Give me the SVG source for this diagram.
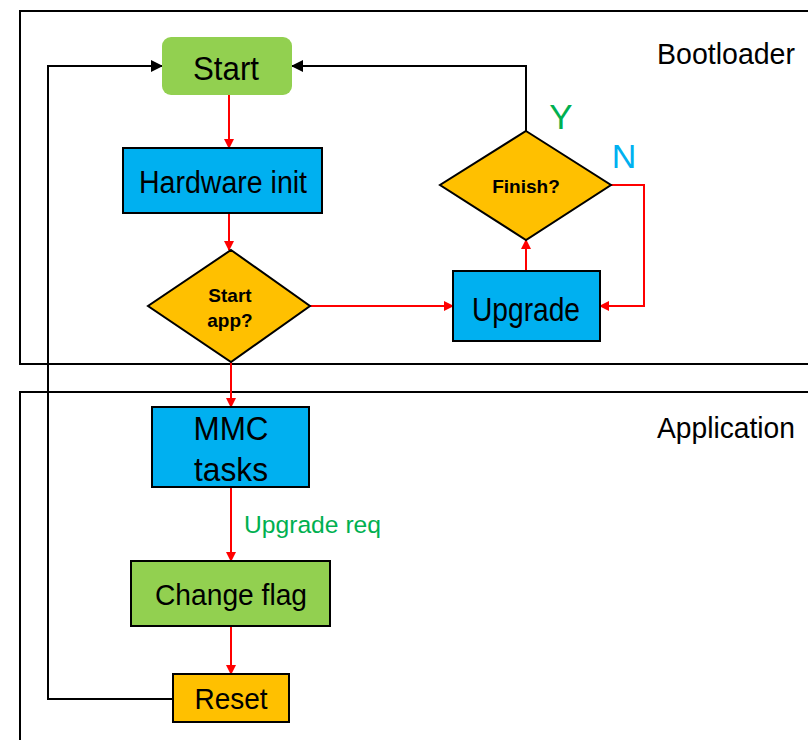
<svg xmlns="http://www.w3.org/2000/svg" width="808" height="740" viewBox="0 0 808 740">
<defs>
<marker id="ar" markerWidth="10" markerHeight="10" refX="9" refY="5" orient="auto" markerUnits="userSpaceOnUse"><path d="M0,0 L10,5 L0,10 Z" fill="#ff0000"/></marker>
<marker id="ab" markerWidth="12" markerHeight="12" refX="11" refY="6" orient="auto" markerUnits="userSpaceOnUse"><path d="M0,0 L12,6 L0,12 Z" fill="#000"/></marker>
</defs>
<style>
text{font-family:"Liberation Sans",Arial,sans-serif;}
.box{stroke:#000;stroke-width:2;}
.red{fill:none;stroke:#ff0000;stroke-width:2;marker-end:url(#ar);}
.blk{fill:none;stroke:#000;stroke-width:2;marker-end:url(#ab);}
.lbl{text-anchor:middle;fill:#000;}
.dl{font-size:19px;font-weight:bold;text-anchor:middle;fill:#000;}
</style>
<rect x="0" y="0" width="808" height="740" fill="#fff"/>
<g id="bootloader">
<rect x="20" y="11" width="800" height="353" fill="none" stroke="#000" stroke-width="2"/>
<text x="657" y="64" font-size="29" textLength="138" lengthAdjust="spacingAndGlyphs">Bootloader</text>
</g>
<g id="application">
<rect x="20" y="392" width="800" height="360" fill="none" stroke="#000" stroke-width="2"/>
<text x="657" y="438" font-size="29" textLength="138" lengthAdjust="spacingAndGlyphs">Application</text>
</g>
<g id="connectors">
<path class="red" d="M229,95 L229,148"/>
<path class="red" d="M229,213 L229,250"/>
<path class="red" d="M310,306 L453,306"/>
<path class="red" d="M526,271 L526,240"/>
<path class="red" d="M611,185 L644,185 L644,306 L600,306"/>
<path class="blk" d="M526,131 L526,66 L292,66"/>
<path class="red" d="M231,362 L231,407"/>
<path class="red" d="M231,487 L231,561"/>
<path class="red" d="M231,626 L231,674"/>
<path class="blk" d="M173,699 L48,699 L48,66 L162,66"/>
<text x="244" y="533" font-size="24.5" fill="#00b050" textLength="137" lengthAdjust="spacingAndGlyphs">Upgrade req</text>
<text x="561" y="129" font-size="35" fill="#00b050" text-anchor="middle">Y</text>
<text x="624" y="168" font-size="34" fill="#00b0f0" text-anchor="middle">N</text>
</g>
<g id="start">
<rect x="162" y="37" width="130" height="58" rx="9" fill="#92d050"/>
<text class="lbl" x="226" y="80" font-size="34" textLength="66" lengthAdjust="spacingAndGlyphs">Start</text>
</g>
<g id="hwinit">
<rect class="box" x="123" y="148" width="199" height="65" fill="#00b0f0"/>
<text class="lbl" x="223" y="193" font-size="31" textLength="168" lengthAdjust="spacingAndGlyphs">Hardware init</text>
</g>
<g id="startapp">
<polygon class="box" points="231,250 310,306 231,362 148,306" fill="#ffc000"/>
<text class="dl" x="230" y="302">Start</text>
<text class="dl" x="230" y="327">app?</text>
</g>
<g id="upgrade">
<rect class="box" x="453" y="271" width="147" height="70" fill="#00b0f0"/>
<text class="lbl" x="526" y="321" font-size="34" textLength="108" lengthAdjust="spacingAndGlyphs">Upgrade</text>
</g>
<g id="finish">
<polygon class="box" points="526,131 611,185 526,240 440,185" fill="#ffc000"/>
<text class="dl" x="526" y="193">Finish?</text>
</g>
<g id="mmc">
<rect class="box" x="152" y="407" width="157" height="80" fill="#00b0f0"/>
<text class="lbl" x="231" y="440" font-size="34" textLength="75" lengthAdjust="spacingAndGlyphs">MMC</text>
<text class="lbl" x="231" y="481" font-size="34" textLength="74" lengthAdjust="spacingAndGlyphs">tasks</text>
</g>
<g id="changeflag">
<rect class="box" x="131" y="561" width="199" height="65" fill="#92d050"/>
<text class="lbl" x="231" y="605" font-size="30" textLength="152" lengthAdjust="spacingAndGlyphs">Change flag</text>
</g>
<g id="reset">
<rect class="box" x="173" y="674" width="116" height="48" fill="#ffc000"/>
<text class="lbl" x="231" y="709" font-size="29" textLength="73" lengthAdjust="spacingAndGlyphs">Reset</text>
</g>
</svg>
